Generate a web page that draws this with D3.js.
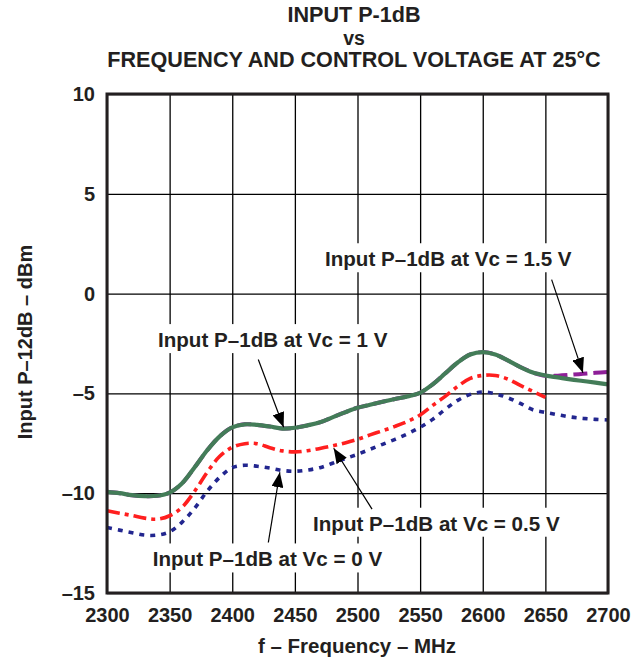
<!DOCTYPE html>
<html>
<head>
<meta charset="utf-8">
<script src="https://cdnjs.cloudflare.com/ajax/libs/d3/7.8.5/d3.min.js"></script>
<style>
body { margin: 0; background: #fff; }
text { font-family: "Liberation Sans", Arial, sans-serif; font-weight: bold; fill: #231f20; }
</style>
</head>
<body>
<script>
// frequency points (MHz)
var freq = [2300, 2310, 2320, 2330, 2340, 2350, 2360, 2370, 2380, 2390,
            2400, 2410, 2420, 2430, 2440, 2450, 2460, 2470, 2480, 2490,
            2500, 2510, 2520, 2530, 2540, 2550, 2560, 2570, 2580, 2590,
            2600, 2610, 2620, 2630, 2640, 2650, 2660, 2670, 2680, 2690, 2700];

// input P-1dB (dBm) for each control voltage
var vc15 = [-9.93, -10.0, -10.1, -10.15, -10.13, -9.97, -9.5, -8.7, -7.85, -7.15,
            -6.7, -6.55, -6.58, -6.66, -6.76, -6.72, -6.6, -6.45, -6.2, -5.95,
            -5.72, -5.57, -5.42, -5.28, -5.15, -4.97, -4.55, -4.0, -3.45, -3.05,
            -2.93, -3.05, -3.35, -3.68, -3.95, -4.12, -4.11, -4.07, -4.02, -3.97, -3.93];
var vc10 = [-9.93, -10.0, -10.1, -10.15, -10.13, -9.97, -9.5, -8.7, -7.85, -7.15,
            -6.7, -6.55, -6.58, -6.66, -6.76, -6.72, -6.6, -6.45, -6.2, -5.95,
            -5.72, -5.57, -5.42, -5.28, -5.15, -4.97, -4.55, -4.0, -3.45, -3.05,
            -2.93, -3.05, -3.35, -3.68, -3.95, -4.1, -4.2, -4.3, -4.38, -4.46, -4.55];
var vc05 = [-10.88, -11.0, -11.12, -11.25, -11.3, -11.13, -10.7, -9.9, -8.95, -8.15,
            -7.7, -7.52, -7.52, -7.72, -7.88, -7.93, -7.87, -7.76, -7.63, -7.48,
            -7.3, -7.08, -6.87, -6.65, -6.4, -6.08, -5.6, -5.15, -4.65, -4.25,
            -4.1, -4.1, -4.28, -4.6, -4.9, -5.2];
var vc00 = [-11.72, -11.85, -11.98, -12.1, -12.1, -11.93, -11.45, -10.75, -9.9, -9.2,
            -8.72, -8.6, -8.65, -8.74, -8.86, -8.9, -8.84, -8.72, -8.5, -8.27,
            -8.05, -7.8, -7.55, -7.3, -7.02, -6.7, -6.3, -5.8, -5.35, -5.05,
            -4.93, -5.02, -5.22, -5.5, -5.82, -5.95, -6.07, -6.18, -6.25, -6.3, -6.33];

var xTicks = [2300, 2350, 2400, 2450, 2500, 2550, 2600, 2650, 2700];
var yTicks = [-15, -10, -5, 0, 5, 10];

// callout labels: text, text start [MHz, dBm], arrow tail and tip [MHz, dBm]
var notes = [
  {label: "Input P\u20131dB at Vc = 1.5 V", at: [2474, 1.37],   from: [2655, 0.7],    to: [2680, -3.97]},
  {label: "Input P\u20131dB at Vc = 1 V",   at: [2340.7, -2.68], from: [2420.8, -3.3], to: [2441, -6.7]},
  {label: "Input P\u20131dB at Vc = 0.5 V", at: [2464.5, -11.88], from: [2511.6, -10.8], to: [2481, -7.75]},
  {label: "Input P\u20131dB at Vc = 0 V",   at: [2336.5, -13.67], from: [2428.8, -12.47], to: [2438, -8.95]}
];

var margin = {top: 94, right: 23, bottom: 69, left: 107},
    width = 631 - margin.left - margin.right,
    height = 662 - margin.top - margin.bottom;

var x = d3.scaleLinear().domain([2300, 2700]).range([0, width]);
var y = d3.scaleLinear().domain([-15, 10]).range([height, 0]);

var root = d3.select("body").append("svg")
    .attr("width", 631)
    .attr("height", 662);

// title
var title = ["INPUT P-1dB", "vs", "FREQUENCY AND CONTROL VOLTAGE AT 25\u00b0C"];
var titleY = [22, 45, 67];
var titleSize = [21.6, 19.5, 21.6];
root.selectAll(".title")
    .data(title)
    .enter().append("text")
    .attr("class", "title")
    .attr("x", 354)
    .attr("y", function(d, i) { return titleY[i]; })
    .attr("text-anchor", "middle")
    .style("font-size", function(d, i) { return titleSize[i] + "px"; })
    .text(function(d) { return d; });

var defs = root.append("defs");
defs.append("marker")
    .attr("id", "head")
    .attr("viewBox", "0 0 15 12")
    .attr("refX", 15)
    .attr("refY", 6)
    .attr("markerWidth", 15)
    .attr("markerHeight", 12)
    .attr("markerUnits", "userSpaceOnUse")
    .attr("orient", "auto")
  .append("path")
    .attr("d", "M0,0L15,6L0,12Z")
    .style("fill", "#000");

var svg = root.append("g")
    .attr("transform", "translate(" + margin.left + "," + margin.top + ")");

// grid + tick labels
var xAxis = svg.append("g")
    .attr("transform", "translate(0," + height + ")")
    .call(d3.axisBottom(x).tickValues(xTicks).tickSize(-height).tickPadding(15).tickFormat(d3.format("d")));
var yAxis = svg.append("g")
    .call(d3.axisLeft(y).tickValues(yTicks).tickSize(-width).tickPadding(12)
        .tickFormat(function(d) { return d < 0 ? "\u2013" + Math.abs(d) : d; }));

[xAxis, yAxis].forEach(function(a) {
  a.select(".domain").remove();
  a.selectAll("line").style("stroke", "#000").style("stroke-width", 1.3);
  a.selectAll("text").style("font-size", "20px").style("font-family", "Liberation Sans, Arial, sans-serif")
      .style("font-weight", "bold").style("fill", "#231f20");
});

// white boxes behind callout text cut the grid
var noteG = svg.selectAll(".note")
    .data(notes)
    .enter().append("g")
    .attr("class", "note");

noteG.append("rect")
    .style("fill", "#fff");

noteG.append("text")
    .attr("x", function(d) { return x(d.at[0]); })
    .attr("y", function(d) { return y(d.at[1]); })
    .style("font-size", "20.6px")
    .text(function(d) { return d.label; });

noteG.each(function() {
  var g = d3.select(this);
  var b = g.select("text").node().getBBox();
  g.select("rect")
      .attr("x", b.x - 5)
      .attr("y", b.y - 4)
      .attr("width", b.width + 10)
      .attr("height", b.height + 6);
});

// curves
var line = d3.line()
    .x(function(d) { return x(d[0]); })
    .y(function(d) { return y(d[1]); })
    .curve(d3.curveCatmullRom);

var series = [
  {vals: vc15, color: "#8e1f98", width: 4, dash: "14,6"},
  {vals: vc10, color: "#437c58", width: 4.2, dash: null},
  {vals: vc05, color: "#ff1f1f", width: 3.6, dash: "13,5,4,5"},
  {vals: vc00, color: "#22268f", width: 3.6, dash: "5,6"}
];

svg.selectAll(".curve")
    .data(series)
    .enter().append("path")
    .attr("class", "curve")
    .attr("d", function(s) { return line(s.vals.map(function(v, i) { return [freq[i], v]; })); })
    .style("fill", "none")
    .style("stroke", function(s) { return s.color; })
    .style("stroke-width", function(s) { return s.width; })
    .style("stroke-dasharray", function(s) { return s.dash; });

// arrows
svg.selectAll(".arrow")
    .data(notes)
    .enter().append("line")
    .attr("class", "arrow")
    .attr("x1", function(d) { return x(d.from[0]); })
    .attr("y1", function(d) { return y(d.from[1]); })
    .attr("x2", function(d) { return x(d.to[0]); })
    .attr("y2", function(d) { return y(d.to[1]); })
    .style("stroke", "#000")
    .style("stroke-width", 1.2)
    .attr("marker-end", "url(#head)");

// frame
svg.append("rect")
    .attr("width", width)
    .attr("height", height)
    .style("fill", "none")
    .style("stroke", "#231f20")
    .style("stroke-width", 3);

// axis titles
root.append("text")
    .attr("x", 357)
    .attr("y", 653)
    .attr("text-anchor", "middle")
    .style("font-size", "20.5px")
    .text("f \u2013 Frequency \u2013 MHz");

root.append("text")
    .attr("transform", "translate(32,342) rotate(-90)")
    .attr("text-anchor", "middle")
    .style("font-size", "20px")
    .text("Input P\u201312dB \u2013 dBm");
</script>
</body>
</html>
